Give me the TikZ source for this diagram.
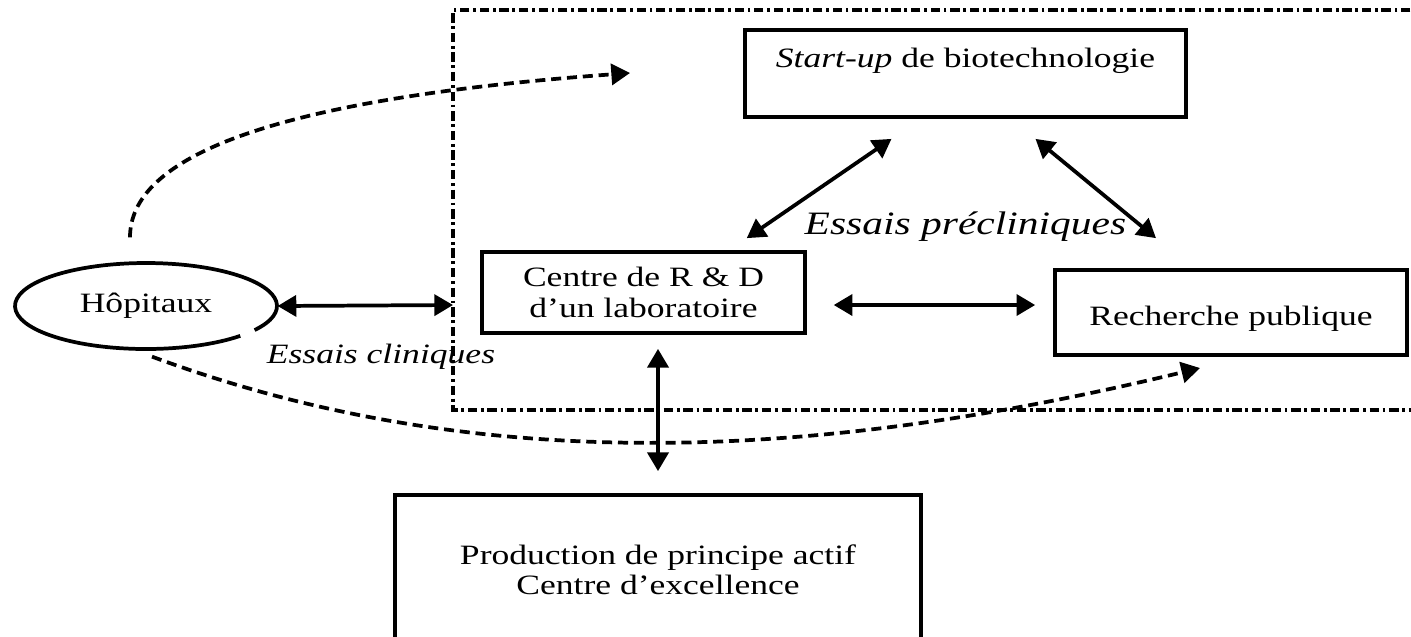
\documentclass[tikz,border=0pt]{standalone}
\usepackage{fontspec}
\setmainfont{Liberation Serif}[FakeStretch=1.27]
\usepackage{tikz}
\usetikzlibrary{arrows.meta,shapes.geometric}

\begin{document}
\begin{tikzpicture}[
  x=0.01506cm, y=-0.01506cm,
  every node/.style={font=\fontsize{12}{13}\selectfont},
  >={Triangle[length=8pt, width=9pt]},
  box/.style={draw, line width=1.6pt, inner sep=2pt, align=center},
  note/.style={font=\itshape\fontsize{12}{13}\selectfont},
  link/.style={<->, line width=1.6pt},
  flow/.style={->, line width=1.6pt, dash pattern=on 4.3pt off 2.5pt},
  zone/.style={line width=1.6pt, dash pattern=on 4pt off 1.6pt on 1.2pt off 1.6pt},
]
\useasboundingbox (0,0) rectangle (1411,636);

%% ── Zone (open on the right) ─────────────────────────────────────────────
\draw[zone] (1430,10) -- (453,10) -- (453,410) -- (1430,410);
\coordinate (zoneW) at (453,305);

%% ── Actors ────────────────────────────────────────────────────────────────
\node[ellipse, inner sep=0pt, minimum width=3.95cm, minimum height=1.30cm]
      (hop) at (146,306) {Hôpitaux};
\draw[line width=1.6pt] ([shift={(44:131 and 43)}]hop.center)
  arc[start angle=44, end angle=394, x radius=131, y radius=43];

\node[box, minimum width=6.64cm, minimum height=1.31cm,
      text height=8.5pt, text depth=14pt]
      (startup) at (965.5,73.5) {\emph{Start-up} de biotechnologie};
\node[box, minimum width=4.86cm, minimum height=1.22cm]
      (rd) at (643.5,292.5) {Centre de R \& D\\d’un laboratoire};
\node[box, minimum width=5.30cm, minimum height=1.28cm,
      text height=13.5pt, text depth=2.6pt]
      (pub) at (1231,312.5) {Recherche publique};
\node[box, minimum width=7.92cm, minimum height=2.26cm]
      (prod) at (658,570) {Production de principe actif\\Centre d’excellence};

%% ── Labels ────────────────────────────────────────────────────────────────
\node[note] (clin) at (381,357) {Essais cliniques};
\node[note, font=\itshape\fontsize{14}{16}\selectfont]
      (preclin) at (965.5,227) {Essais précliniques};

%% ── Links ─────────────────────────────────────────────────────────────────
\draw[link] (hop.east) -- (zoneW);
\draw[link] ([shift={(-74,20)}]startup.south) -- ([shift={(-60,-12)}]rd.north east);
\draw[link] ([shift={(70,20)}]startup.south) -- ([shift={(-75,-30)}]pub.north);
\draw[link] ([shift={(27,12.5)}]rd.east) -- ([shift={(-18,-7.5)}]pub.west);
\draw[link] ([shift={(14.5,14)}]rd.south) -- ([shift={(0,-22)}]prod.north);

% dashed flows out of the hospitals
\coordinate (upTip) at (630,73);
\coordinate (lowTip) at (1200,368);
\draw[flow] ([shift={(-16,-25)}]hop.north) .. controls (130,160) and (260,100) .. (upTip);
\draw[flow] ([shift={(6,7)}]hop.south) .. controls (480,478) and (820,460) .. (lowTip);

\end{tikzpicture}
\end{document}
